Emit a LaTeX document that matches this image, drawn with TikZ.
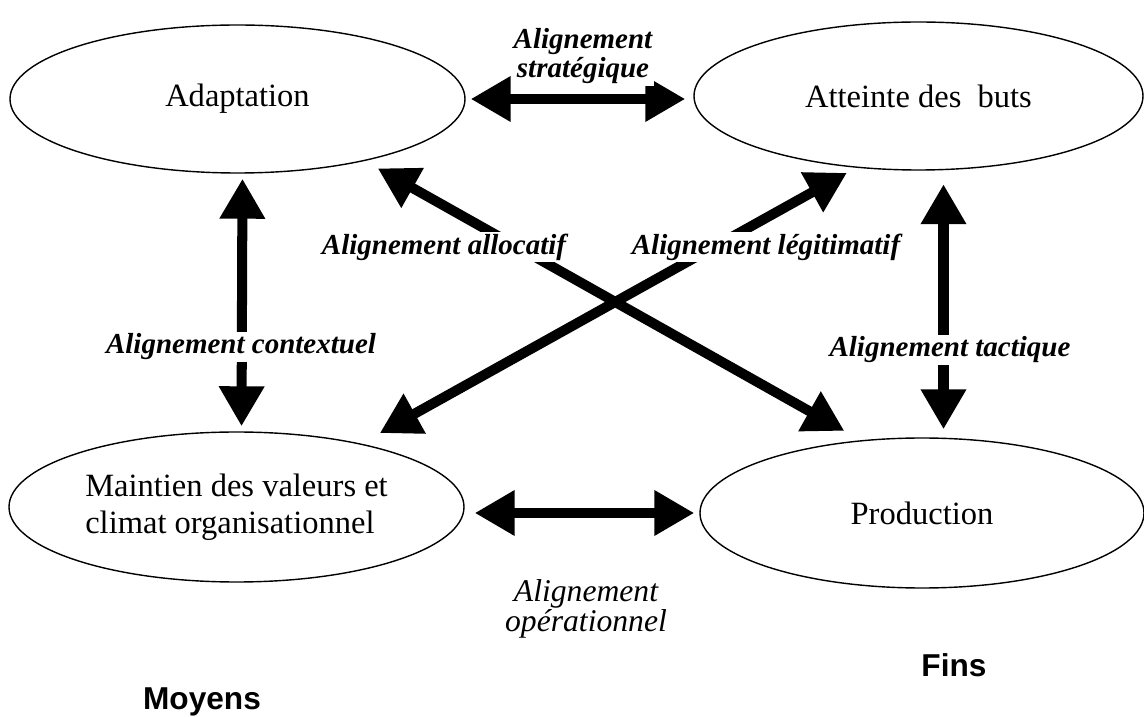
\documentclass[tikz,border=0pt]{standalone}
\usepackage{fontspec}
\setmainfont{Liberation Serif}
\newfontfamily\sidefont{Liberation Sans}
\usetikzlibrary{shapes.geometric, arrows.meta, positioning}
\tikzset{
	zone/.style     ={ellipse, draw=black, line width=0.8pt, minimum width=9.1cm, minimum height=2.96cm, align=center, font=\fontsize{18.5}{21}\selectfont},
	twoway/.style   ={{Triangle[length=0.8cm, width=0.86cm]}-{Triangle[length=0.8cm, width=0.86cm]}, line width=5.7pt},
	lbl/.style      ={fill=white, inner sep=1pt, align=center, font=\fontsize{16.5}{17}\selectfont\bfseries\itshape},
	side/.style     ={anchor=base, font=\fontsize{18}{21}\selectfont\sidefont\bfseries},
}
\begin{document}
\begin{tikzpicture}
	\useasboundingbox (0,0) rectangle (22.88,14.34);
	% the four functions
	\node[zone] (adapt) at (4.75,12.36) {Adaptation};
	\node[zone, minimum width=8.98cm] (buts) at (18.37,12.42) {Atteinte des\ \ buts};
	\node[zone, minimum height=3cm, align=left] (maint) at (4.73,4.20) {Maintien des valeurs et\\climat organisationnel};
	\node[zone, minimum width=8.88cm, minimum height=3cm] (prod) at (18.44,4.08) {Production};
	% alignments
	\draw[twoway, shorten <=1mm, shorten >=1.6mm] (adapt.east) -- (adapt.east -| buts.west);
	\draw[twoway, shorten <=2mm, shorten >=1mm] (maint.east |- prod.west) -- (prod.west);
	\draw[twoway, shorten <=1mm, shorten >=1mm] ([xshift=1mm]adapt.south) -- ([xshift=1mm]maint.north);
	\draw[twoway, shorten <=2.7mm, shorten >=1.6mm] ([xshift=5mm]buts.south) -- ([xshift=5mm]buts.south |- prod.north);
	\draw[twoway, shorten <=3mm, shorten >=3.8mm] (adapt.-26) -- (prod.130);
	\draw[twoway, shorten <=4.3mm, shorten >=2.1mm] (maint.27) -- (buts.-131);
	% labels
	\node[lbl] (strat) at (11.66,13.22) {Alignement\\stratégique};
	\node[lbl] (context) at (4.82,7.40) {Alignement contextuel};
	\node[lbl] (tact) at (19.0,7.34) {Alignement tactique};
	\node[lbl] (alloc) at (8.88,9.40) {Alignement allocatif};
	\node[lbl] (legit) at (15.32,9.40) {Alignement légitimatif};
	\node[lbl, font=\fontsize{18}{17}\selectfont\itshape] (oper) at (11.72,2.16) {Alignement\\opérationnel};
	\node[side] (fins) at (19.08,0.80) {Fins};
	\node[side] (moyens) at (4.04,0.14) {Moyens};
\end{tikzpicture}
\end{document}
